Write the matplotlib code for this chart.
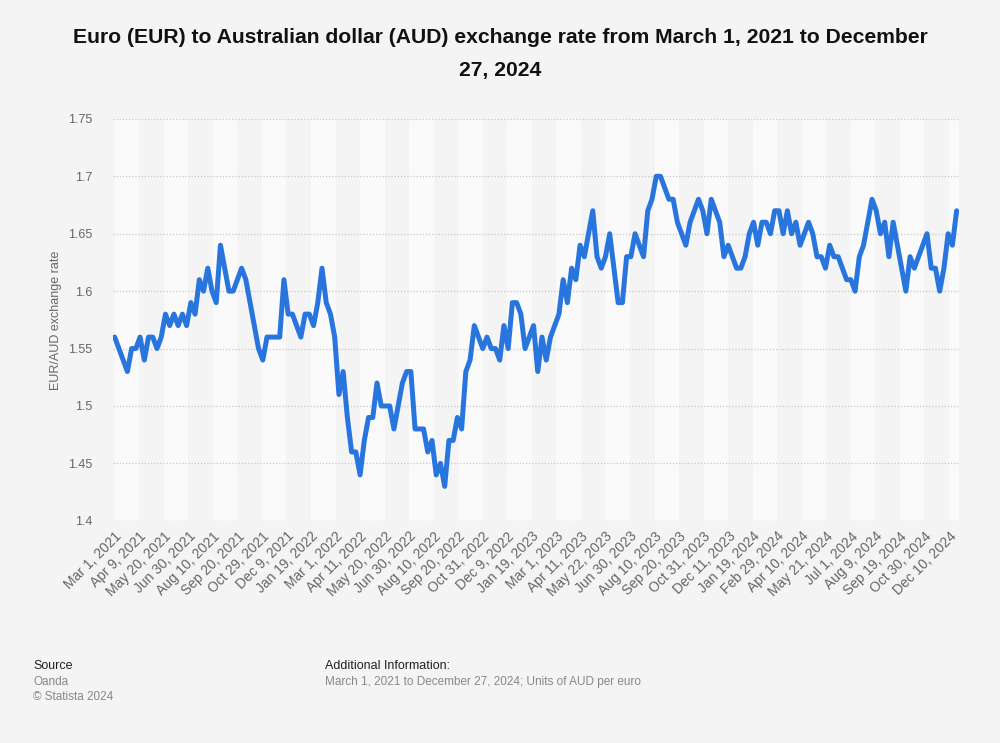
import numpy as np
import matplotlib
matplotlib.use('Agg')
import matplotlib.pyplot as plt

plt.rcParams['font.family'] = ['Liberation Sans', 'DejaVu Sans']

# weekly readings (every 5th business day) of the EUR/AUD rate, Mar 1 2021 .. Dec 27 2024
rate = [
    1.56, 1.55, 1.54, 1.53, 1.55, 1.55, 1.56, 1.54, 1.56, 1.56,
    1.55, 1.56, 1.58, 1.57, 1.58, 1.57, 1.58, 1.57, 1.59, 1.58,
    1.61, 1.60, 1.62, 1.60, 1.59, 1.64, 1.62, 1.60, 1.60, 1.61,
    1.62, 1.61, 1.59, 1.57, 1.55, 1.54, 1.56, 1.56, 1.56, 1.56,
    1.61, 1.58, 1.58, 1.57, 1.56, 1.58, 1.58, 1.57, 1.59, 1.62,
    1.59, 1.58, 1.56, 1.51, 1.53, 1.49, 1.46, 1.46, 1.44, 1.47,
    1.49, 1.49, 1.52, 1.50, 1.50, 1.50, 1.48, 1.50, 1.52, 1.53,
    1.53, 1.48, 1.48, 1.48, 1.46, 1.47, 1.44, 1.45, 1.43, 1.47,
    1.47, 1.49, 1.48, 1.53, 1.54, 1.57, 1.56, 1.55, 1.56, 1.55,
    1.55, 1.54, 1.57, 1.55, 1.59, 1.59, 1.58, 1.55, 1.56, 1.57,
    1.53, 1.56, 1.54, 1.56, 1.57, 1.58, 1.61, 1.59, 1.62, 1.61,
    1.64, 1.63, 1.65, 1.67, 1.63, 1.62, 1.63, 1.65, 1.62, 1.59,
    1.59, 1.63, 1.63, 1.65, 1.64, 1.63, 1.67, 1.68, 1.70, 1.70,
    1.69, 1.68, 1.68, 1.66, 1.65, 1.64, 1.66, 1.67, 1.68, 1.67,
    1.65, 1.68, 1.67, 1.66, 1.63, 1.64, 1.63, 1.62, 1.62, 1.63,
    1.65, 1.66, 1.64, 1.66, 1.66, 1.65, 1.67, 1.67, 1.65, 1.67,
    1.65, 1.66, 1.64, 1.65, 1.66, 1.65, 1.63, 1.63, 1.62, 1.64,
    1.63, 1.63, 1.62, 1.61, 1.61, 1.60, 1.63, 1.64, 1.66, 1.68,
    1.67, 1.65, 1.66, 1.63, 1.66, 1.64, 1.62, 1.60, 1.63, 1.62,
    1.63, 1.64, 1.65, 1.62, 1.62, 1.60, 1.62, 1.65, 1.64, 1.67,
]
days_per_point = 5        # business days between readings
n_days = 999              # business days in the full range
tick_step = 29            # business days between axis labels

tick_labels = [
    'Mar 1, 2021', 'Apr 9, 2021', 'May 20, 2021', 'Jun 30, 2021', 'Aug 10, 2021',
    'Sep 20, 2021', 'Oct 29, 2021', 'Dec 9, 2021', 'Jan 19, 2022', 'Mar 1, 2022',
    'Apr 11, 2022', 'May 20, 2022', 'Jun 30, 2022', 'Aug 10, 2022', 'Sep 20, 2022',
    'Oct 31, 2022', 'Dec 9, 2022', 'Jan 19, 2023', 'Mar 1, 2023', 'Apr 11, 2023',
    'May 22, 2023', 'Jun 30, 2023', 'Aug 10, 2023', 'Sep 20, 2023', 'Oct 31, 2023',
    'Dec 11, 2023', 'Jan 19, 2024', 'Feb 29, 2024', 'Apr 10, 2024', 'May 21, 2024',
    'Jul 1, 2024', 'Aug 9, 2024', 'Sep 19, 2024', 'Oct 30, 2024', 'Dec 10, 2024',
]
yticks = [1.4, 1.45, 1.5, 1.55, 1.6, 1.65, 1.7, 1.75]

_BG = '#f4f4f4'
_LINE = '#2876dd'

fig = plt.figure(figsize=(10, 7.43), dpi=100, facecolor=_BG)
ax = fig.add_axes([0.113, 0.299, 0.847, 0.541])
ax.set_facecolor(_BG)

x = np.arange(len(rate)) * days_per_point
ticks = np.arange(len(tick_labels)) * tick_step

# alternating column bands between label positions
edges = list(ticks) + [n_days - 1]
for k in range(len(edges) - 1):
    ax.axvspan(edges[k], edges[k + 1], color='#fafafa' if k % 2 == 0 else '#f4f4f4',
               lw=0, zorder=0)

for yv in yticks:
    ax.axhline(yv, color='#c8c8c8', lw=0.9, ls=(0, (1, 1.5)), zorder=1)

ax.plot(x, rate, color=_LINE, lw=3.6, solid_joinstyle='round',
        solid_capstyle='round', zorder=3)

ax.set_xlim(-2, n_days)
ax.set_ylim(1.4, 1.75)
ax.set_yticks(yticks)
ax.set_yticklabels([f'{v:g}' for v in yticks], fontsize=9, color='#666666')
ax.set_xticks(ticks)
ax.set_xticklabels(tick_labels, rotation=45, ha='right', rotation_mode='anchor',
                   fontsize=10, color='#666666')
ax.tick_params(length=0, axis='y', pad=15)
ax.tick_params(length=0, axis='x', pad=6)
for s in ax.spines.values():
    s.set_visible(False)
ax.set_ylabel('EUR/AUD exchange rate', fontsize=9, color='#666666', labelpad=4)

fig.text(0.5, 0.962, 'Euro (EUR) to Australian dollar (AUD) exchange rate from March 1, 2021 to December\n27, 2024',
         ha='center', va='top', fontsize=15.2, fontweight='bold', color='#111111',
         linespacing=1.9)

fig.text(0.033, 0.103, 'Source', fontsize=9, color='#222222', va='center')
fig.text(0.033, 0.082, 'Oanda', fontsize=8.5, color='#888888', va='center')
fig.text(0.033, 0.062, '\u00a9 Statista 2024', fontsize=8.5, color='#888888', va='center')
fig.text(0.325, 0.103, 'Additional Information:', fontsize=9, color='#222222', va='center')
fig.text(0.325, 0.082, 'March 1, 2021 to December 27, 2024; Units of AUD per euro',
         fontsize=8.5, color='#888888', va='center')

fig.savefig('out.png', dpi=100, facecolor=_BG)
plt.close(fig)
